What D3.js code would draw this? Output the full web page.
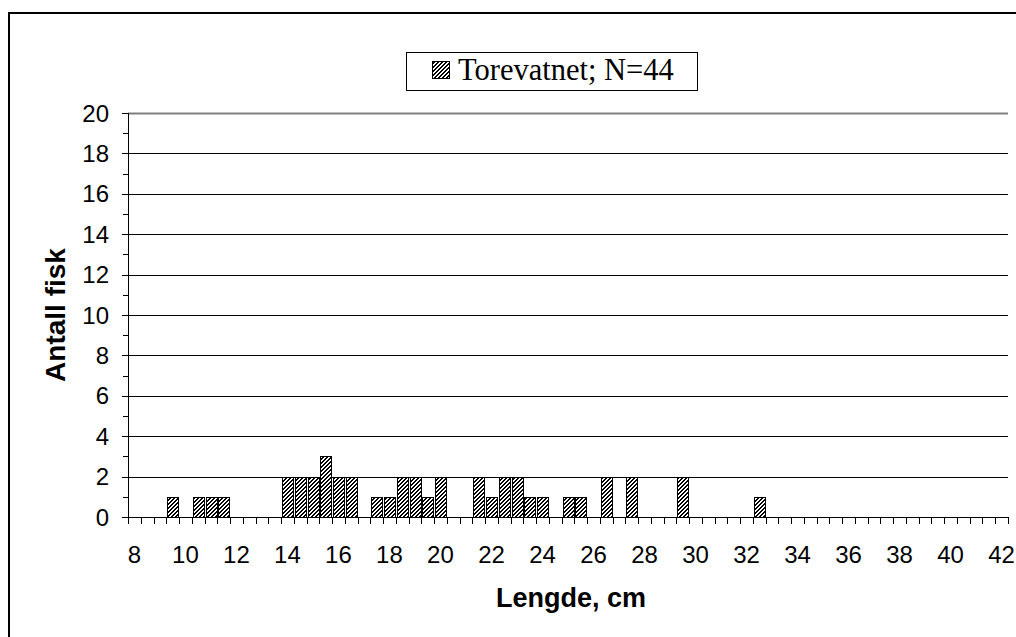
<!DOCTYPE html>
<html>
<head>
<meta charset="utf-8">
<script src="https://cdn.jsdelivr.net/npm/d3@7"></script>
<style>
  html, body { margin: 0; padding: 0; background: #fff; }
  svg { display: block; }
</style>
</head>
<body>
<script>
// ---- Data ----
const categories = [
  8, 8.5, 9, 9.5, 10, 10.5, 11, 11.5, 12, 12.5, 13, 13.5, 14, 14.5, 15, 15.5,
  16, 16.5, 17, 17.5, 18, 18.5, 19, 19.5, 20, 20.5, 21, 21.5, 22, 22.5, 23, 23.5,
  24, 24.5, 25, 25.5, 26, 26.5, 27, 27.5, 28, 28.5, 29, 29.5, 30, 30.5, 31, 31.5,
  32, 32.5, 33, 33.5, 34, 34.5, 35, 35.5, 36, 36.5, 37, 37.5, 38, 38.5, 39, 39.5,
  40, 40.5, 41, 41.5, 42
];
const counts = [
  0, 0, 0, 1, 0, 1, 1, 1, 0, 0, 0, 0, 2, 2, 2, 3,
  2, 2, 0, 1, 1, 2, 2, 1, 2, 0, 0, 2, 1, 2, 2, 1,
  1, 0, 1, 1, 0, 2, 0, 2, 0, 0, 0, 2, 0, 0, 0, 0,
  0, 1, 0, 0, 0, 0, 0, 0, 0, 0, 0, 0, 0, 0, 0, 0,
  0, 0, 0, 0, 0
];
const xTickLabels = [8, 10, 12, 14, 16, 18, 20, 22, 24, 26, 28, 30, 32, 34, 36, 38, 40, 42];
const yTickLabels = [0, 2, 4, 6, 8, 10, 12, 14, 16, 18, 20];
const yMinorTicks = [1, 3, 5, 7, 9, 11, 13, 15, 17, 19];
const seriesName = "Torevatnet; N=44";
const xTitle = "Lengde, cm";
const yTitle = "Antall fisk";

// ---- Layout ----
const W = 1016, H = 637;
const plot = { left: 128, right: 1008, top: 113, bottom: 517 };

const svg = d3.select("body").append("svg")
  .attr("width", W).attr("height", H);

// Pixel-style "wide upward diagonal" hatch (4x4 tile)
const defs = svg.append("defs");
const pat = defs.append("pattern")
  .attr("id", "hatch")
  .attr("patternUnits", "userSpaceOnUse")
  .attr("width", 4).attr("height", 4);
pat.append("rect").attr("width", 4).attr("height", 4).attr("fill", "#fff");
const hatchPixels = [];
for (let r = 0; r < 4; r++) {
  hatchPixels.push([(3 - r + 4) % 4, r]);
  hatchPixels.push([(4 - r) % 4, r]);
}
pat.selectAll("rect.px").data(hatchPixels).join("rect")
  .attr("class", "px")
  .attr("x", d => d[0]).attr("y", d => d[1])
  .attr("width", 1).attr("height", 1)
  .attr("fill", "#000")
  .attr("shape-rendering", "crispEdges");

// Outer chart border
svg.append("rect")
  .attr("x", 9).attr("y", 13)
  .attr("width", W + 20).attr("height", H + 20)
  .attr("fill", "none").attr("stroke", "#000").attr("stroke-width", 2);

const x = d3.scaleBand()
  .domain(categories)
  .range([plot.left, plot.right])
  .paddingInner(0.16)
  .paddingOuter(0.08);

const y = d3.scaleLinear()
  .domain([0, 20])
  .range([plot.bottom, plot.top]);

// Gridlines
svg.append("g").selectAll("line")
  .data(yTickLabels.filter(v => v > 0))
  .join("line")
  .attr("x1", plot.left).attr("x2", plot.right)
  .attr("y1", d => Math.round(y(d)) + 0.5).attr("y2", d => Math.round(y(d)) + 0.5)
  .attr("stroke", d => d === 20 ? "#808080" : "#000")
  .attr("stroke-width", d => d === 20 ? 2 : 1);

// Bars
const data = categories.map((c, i) => ({ c, v: counts[i] }));
svg.append("g").selectAll("rect")
  .data(data.filter(d => d.v > 0))
  .join("rect")
  .attr("x", d => Math.round(x(d.c)) + 0.5)
  .attr("y", d => Math.round(y(d.v)) + 0.5)
  .attr("width", Math.round(x.bandwidth()))
  .attr("height", d => Math.round(y(0)) - Math.round(y(d.v)))
  .attr("fill", "url(#hatch)")
  .attr("stroke", "#000")
  .attr("stroke-width", 1);

// Y axis
const yAxis = svg.append("g");
yAxis.append("line")
  .attr("x1", plot.left + 0.5).attr("x2", plot.left + 0.5)
  .attr("y1", plot.top).attr("y2", plot.bottom)
  .attr("stroke", "#000");
yAxis.selectAll("line.major").data(yTickLabels).join("line")
  .attr("class", "major")
  .attr("x1", plot.left - 6).attr("x2", plot.left)
  .attr("y1", d => Math.round(y(d)) + 0.5).attr("y2", d => Math.round(y(d)) + 0.5)
  .attr("stroke", "#000");
yAxis.selectAll("line.minor").data(yMinorTicks).join("line")
  .attr("class", "minor")
  .attr("x1", plot.left - 5).attr("x2", plot.left)
  .attr("y1", d => Math.round(y(d)) + 0.5).attr("y2", d => Math.round(y(d)) + 0.5)
  .attr("stroke", "#000");
yAxis.selectAll("text").data(yTickLabels).join("text")
  .attr("x", 109)
  .attr("y", d => y(d))
  .attr("dy", "0.36em")
  .attr("text-anchor", "end")
  .attr("font-family", "Liberation Sans, Arial, sans-serif")
  .attr("font-size", 24)
  .text(d => d);

// X axis
const xAxis = svg.append("g");
xAxis.append("line")
  .attr("x1", plot.left).attr("x2", plot.right)
  .attr("y1", plot.bottom + 0.5).attr("y2", plot.bottom + 0.5)
  .attr("stroke", "#000");
const step = x.step();
const boundaries = categories.map(c => x(c) - x.paddingInner() * step / 2);
boundaries.push(plot.right);
xAxis.selectAll("line.tick").data(boundaries).join("line")
  .attr("class", "tick")
  .attr("x1", d => Math.round(d) + 0.5).attr("x2", d => Math.round(d) + 0.5)
  .attr("y1", plot.bottom).attr("y2", plot.bottom + 7)
  .attr("stroke", "#000");
xAxis.selectAll("text").data(xTickLabels).join("text")
  .attr("x", d => x(d) + x.bandwidth() / 2)
  .attr("y", 563)
  .attr("text-anchor", "middle")
  .attr("font-family", "Liberation Sans, Arial, sans-serif")
  .attr("font-size", 24)
  .text(d => d);

// Axis titles
svg.append("text")
  .attr("x", (plot.left + plot.right) / 2 + 3)
  .attr("y", 607)
  .attr("text-anchor", "middle")
  .attr("font-family", "Liberation Sans, Arial, sans-serif")
  .attr("font-weight", "bold")
  .attr("font-size", 27)
  .text(xTitle);

svg.append("text")
  .attr("transform", `translate(65,${(plot.top + plot.bottom) / 2}) rotate(-90)`)
  .attr("text-anchor", "middle")
  .attr("font-family", "Liberation Sans, Arial, sans-serif")
  .attr("font-weight", "bold")
  .attr("font-size", 28)
  .text(yTitle);

// Legend
const lg = svg.append("g");
lg.append("rect")
  .attr("x", 406.5).attr("y", 52.5)
  .attr("width", 291).attr("height", 38)
  .attr("fill", "#fff").attr("stroke", "#000").attr("stroke-width", 1);
lg.append("rect")
  .attr("x", 432.5).attr("y", 61.5)
  .attr("width", 17).attr("height", 17)
  .attr("fill", "url(#hatch)").attr("stroke", "#000").attr("stroke-width", 1);
lg.append("text")
  .attr("x", 458)
  .attr("y", 80)
  .attr("font-family", "Liberation Serif, Times New Roman, serif")
  .attr("font-size", 30.5)
  .text(seriesName);
</script>
</body>
</html>
